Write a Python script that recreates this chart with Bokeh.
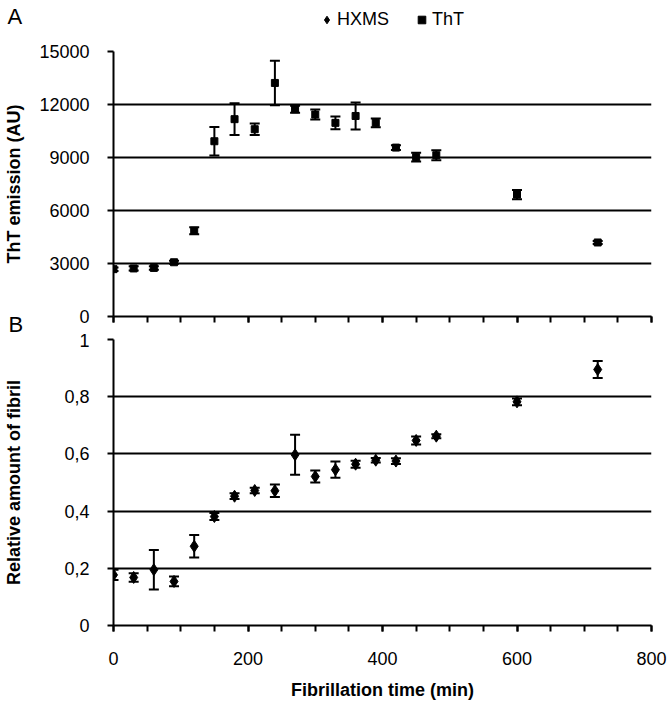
from bokeh.plotting import figure
from bokeh.models import (ColumnDataSource, Whisker, TeeHead, FixedTicker, Title,
                          CustomJSTickFormatter, Label, Legend, LegendItem, Range1d)
from bokeh.layouts import column
from bokeh.embed import file_html
from bokeh.resources import INLINE

# ---------------- data ----------------
time_min = [0, 30, 60, 90, 120, 150, 180, 210, 240, 270, 300, 330, 360, 390, 420, 450, 480, 600, 720]
tht_value = [2680, 2720, 2750, 3070, 4850, 9920, 11170, 10600, 13220, 11730, 11430, 10960,
             11350, 10960, 9560, 9020, 9130, 6900, 4190]
tht_error = [100, 120, 100, 80, 200, 810, 900, 330, 1260, 200, 280, 360, 760, 250, 140, 250, 280, 260, 80]
hxms_value = [0.177, 0.168, 0.195, 0.154, 0.277, 0.381, 0.452, 0.472, 0.471, 0.597, 0.521, 0.545,
              0.564, 0.578, 0.575, 0.647, 0.662, 0.782, 0.895]
hxms_error = [0.018, 0.015, 0.069, 0.017, 0.039, 0.012, 0.010, 0.010, 0.022, 0.070, 0.021, 0.028,
              0.012, 0.008, 0.010, 0.014, 0.007, 0.012, 0.030]

x_major = [0, 200, 400, 600, 800]
x_minor = [0, 50, 100, 150, 200, 250, 300, 350, 400, 450, 500, 550, 600, 650, 700, 750, 800]
tht_ticks = [0, 3000, 6000, 9000, 12000, 15000]
hxms_ticks = [0, 0.2, 0.4, 0.6, 0.8, 1.0]

FONT = "Liberation Sans"
W = 672
LEFT = 113
FRAME_W = 538
RIGHT = W - LEFT - FRAME_W
HEAD_H = 39


def base_fig(height, top, bottom, y0, y1, yticks):
    p = figure(width=W, height=height, x_range=Range1d(0, 800), y_range=Range1d(y0, y1),
               output_backend="svg", toolbar_location=None,
               min_border_left=LEFT, min_border_right=RIGHT,
               min_border_top=top, min_border_bottom=bottom)
    p.outline_line_color = None
    p.background_fill_color = "white"
    p.border_fill_color = "white"
    p.xgrid.visible = False
    yt = FixedTicker(ticks=yticks, minor_ticks=[])
    p.yaxis[0].ticker = yt
    p.ygrid[0].ticker = yt
    p.ygrid.grid_line_color = "black"
    p.ygrid.grid_line_width = 2
    p.xaxis[0].ticker = FixedTicker(ticks=x_major, minor_ticks=x_minor)
    for ax in (p.xaxis[0], p.yaxis[0]):
        ax.axis_line_width = 2
        ax.axis_line_color = "black"
        ax.major_tick_line_width = 2
        ax.major_tick_line_color = "black"
        ax.major_tick_in = 0
        ax.major_tick_out = 6
        ax.minor_tick_line_width = 2
        ax.minor_tick_line_color = "black"
        ax.minor_tick_in = 0
        ax.minor_tick_out = 6
        ax.major_label_text_font = FONT
        ax.major_label_text_font_size = "18px"
        ax.major_label_text_color = "black"
        ax.axis_label_text_font = FONT
        ax.axis_label_text_font_size = "18px"
        ax.axis_label_text_font_style = "bold"
        ax.axis_label_text_color = "black"
    p.yaxis[0].major_label_standoff = 18
    return p


# ---------------- panel A ----------------
p1 = base_fig(12 + 265 + 17, 12, 17, 0, 15000, tht_ticks)
p1.xaxis[0].formatter = CustomJSTickFormatter(code="return '';")
p1.xaxis[0].major_label_standoff = 0
p1.xaxis[0].major_label_text_font_size = "1px"
p1.yaxis[0].axis_label = "ThT emission (AU)"
p1.yaxis[0].axis_label_standoff = 12

src1 = ColumnDataSource(dict(
    x=time_min, y=tht_value,
    upper=[v + e for v, e in zip(tht_value, tht_error)],
    lower=[v - e for v, e in zip(tht_value, tht_error)]))
w1 = Whisker(base="x", upper="upper", lower="lower", source=src1,
             line_color="black", line_width=2,
             upper_head=TeeHead(size=10, line_width=2, line_color="black"),
             lower_head=TeeHead(size=10, line_width=2, line_color="black"))
p1.add_layout(w1)
p1.scatter("x", "y", source=src1, marker="square", size=7,
           fill_color="black", line_color="black")

# panel letter B as a title under panel A
b_title = Title(text="B", align="left", vertical_align="top", offset=-(LEFT - 8),
                text_font=FONT, text_font_size="22px", text_font_style="normal",
                text_color="black")
try:
    b_title.standoff = -22
except Exception:
    b_title.standoff = 0
p1.add_layout(b_title, "below")

# ---------------- header: panel letter A and series legend ----------------
p0 = figure(width=W, height=HEAD_H, x_range=Range1d(0, W), y_range=Range1d(0, HEAD_H),
            x_axis_type=None, y_axis_type=None, output_backend="svg", toolbar_location=None,
            min_border_left=0, min_border_right=0, min_border_top=0, min_border_bottom=0)
try:
    p0.frame_align = False
except Exception:
    pass
p0.outline_line_color = None
p0.grid.visible = False
p0.add_layout(Label(x=7, y=HEAD_H - 16, x_units="screen", y_units="screen", text="A",
                    text_font=FONT, text_font_size="22px", text_color="black",
                    text_baseline="alphabetic"))
# legend proxies (their points fall far outside this strip's range, so only the legend glyphs show)
leg_h = p0.scatter("x", "y", source=src1, marker="diamond", size=8,
                   fill_color="black", line_color="black")
leg_t = p0.scatter("x", "y", source=src1, marker="square", size=7,
                   fill_color="black", line_color="black")
legend = Legend(items=[LegendItem(label="HXMS", renderers=[leg_h]),
                       LegendItem(label="ThT", renderers=[leg_t])],
                orientation="horizontal", location=(317, HEAD_H - 30),
                padding=0, margin=0, spacing=23, label_standoff=1,
                glyph_width=19, glyph_height=19, label_height=18,
                border_line_color=None, background_fill_alpha=0,
                label_text_font=FONT, label_text_font_size="18px", label_text_color="black")
p0.add_layout(legend, "center")

# ---------------- panel B ----------------
p2 = base_fig(6 + 286 + 81, 6, 81, 0, 1, hxms_ticks)
p2.yaxis[0].formatter = CustomJSTickFormatter(
    code="return (Math.round(tick*10)/10).toString().replace('.', ',');")
p2.yaxis[0].axis_label = "Relative amount of fibril"
p2.yaxis[0].axis_label_standoff = 37
p2.xaxis[0].axis_label = "Fibrillation time (min)"
p2.xaxis[0].major_label_standoff = 20
p2.xaxis[0].axis_label_standoff = 12

src2 = ColumnDataSource(dict(
    x=time_min, y=hxms_value,
    upper=[v + e for v, e in zip(hxms_value, hxms_error)],
    lower=[v - e for v, e in zip(hxms_value, hxms_error)]))
w2 = Whisker(base="x", upper="upper", lower="lower", source=src2,
             line_color="black", line_width=2,
             upper_head=TeeHead(size=10, line_width=2, line_color="black"),
             lower_head=TeeHead(size=10, line_width=2, line_color="black"))
p2.add_layout(w2)
p2.scatter("x", "y", source=src2, marker="diamond", size=12,
           fill_color="black", line_color="black")

layout = column(p0, p1, p2, spacing=0)
open("out.html", "w").write(file_html(layout, INLINE))
